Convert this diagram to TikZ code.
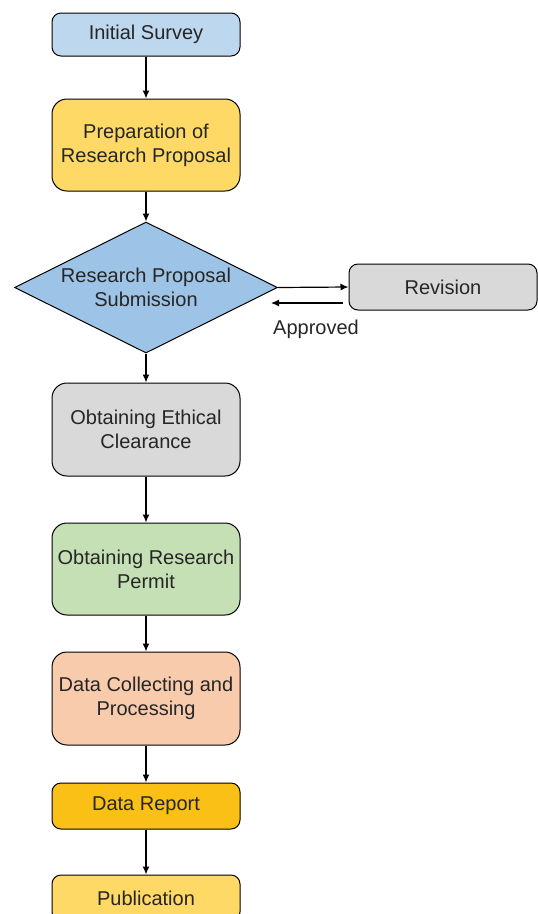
\documentclass[tikz,border=0pt]{standalone}
\usepackage{fontspec}
\setmainfont{Liberation Sans}
\usetikzlibrary{arrows.meta,shapes.geometric}

\definecolor{surveyblue}{HTML}{BDD7EE}
\definecolor{submitblue}{HTML}{9DC3E6}
\definecolor{propgold}{HTML}{FFD966}
\definecolor{reportgold}{HTML}{FBC016}
\definecolor{stepgray}{HTML}{D9D9D9}
\definecolor{permitgreen}{HTML}{C5E0B4}
\definecolor{datapeach}{HTML}{F8CBAD}
\definecolor{inkgray}{HTML}{262626}

\tikzset{
	flowbox/.style={draw=black, line width=1pt, rounded corners=9pt, minimum width=188pt,
		inner sep=0pt, align=center, text=inkgray, font=\fontsize{20}{24}\selectfont},
	tallbox/.style={flowbox, rounded corners=15pt, minimum height=93pt},
	shortbox/.style={flowbox, minimum height=45pt},
	flowarrow/.style={line width=1.2pt, -{Latex[length=8pt,width=7pt]}}
}

\begin{document}
\begin{tikzpicture}[x=1pt, y=-1pt]
			%%%%% START %%%%%
			\clip (0, 0) rectangle (538, 914);
			\useasboundingbox (0, 0) rectangle (538, 914);
			
			\node[shortbox, fill=surveyblue, minimum height=43pt] (survey) at (146, 34.5) {Initial Survey};
			\node[tallbox, fill=propgold, minimum height=92pt] (proposal) at (146, 145) {Preparation of\\Research Proposal};
			\node[diamond, draw=black, line width=1pt, fill=submitblue, aspect=2, minimum width=263pt, minimum height=131pt,
				inner sep=0pt, align=center, text=inkgray, font=\fontsize{20}{24}\selectfont] (submit) at (146, 287.5) {Research Proposal\\Submission};
			\node[shortbox, fill=stepgray, minimum height=46pt] (revision) at (443, 287) {Revision};
			\node[tallbox, fill=stepgray] (ethics) at (146, 429.5) {Obtaining Ethical\\Clearance};
			\node[tallbox, fill=permitgreen, minimum height=92pt] (permit) at (146, 569) {Obtaining Research\\Permit};
			\node[tallbox, fill=datapeach] (collect) at (146, 698.5) {Data Collecting and\\Processing};
			\node[shortbox, fill=reportgold, minimum height=46pt] (report) at (146, 806) {Data Report};
			\node[shortbox, fill=propgold, minimum height=46pt] (publish) at (146, 898) {Publication};
			
			\draw[flowarrow] (survey) -- (proposal);
			\draw[flowarrow] (proposal) -- (submit);
			\draw[flowarrow] (submit.east) -- (revision.west);
			
			\coordinate (backstart) at (343, 303);
			\coordinate (backend) at (271, 303);
			\draw[flowarrow] (backstart) -- (backend);
			\node[text=inkgray, font=\fontsize{20}{24}\selectfont] (approved) at (316, 329) {Approved};
			
			\draw[flowarrow] (submit) -- (ethics);
			\draw[flowarrow] (ethics) -- (permit);
			\draw[flowarrow] (permit) -- (collect);
			\draw[flowarrow] (collect) -- (report);
			\draw[flowarrow] (report) -- (publish);
			%%%%% END %%%%%
\end{tikzpicture}
\end{document}
